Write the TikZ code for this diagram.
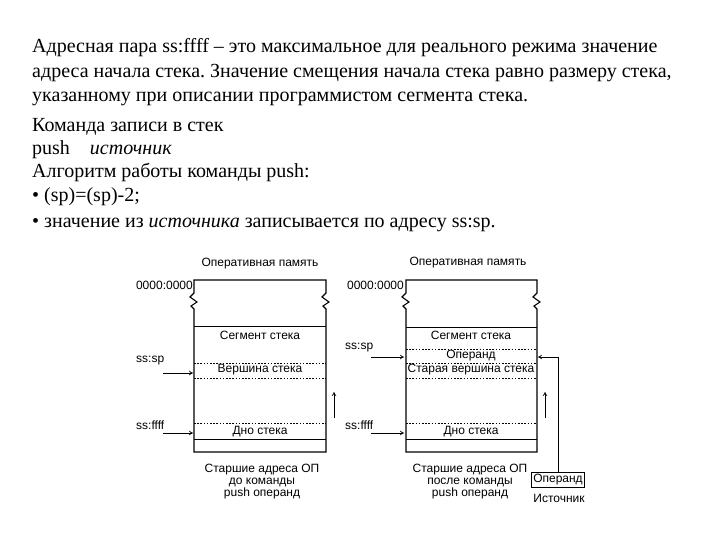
\documentclass[tikz,border=0pt]{standalone}
\usepackage{fontspec}
\setmainfont{Liberation Serif}
\newfontfamily\diagfont{Liberation Sans}
\usetikzlibrary{arrows.meta}
\frenchspacing
\tikzset{
  txt/.style={anchor=base west,inner sep=0pt,font=\fontsize{20}{22}\selectfont},
  lbl/.style={inner sep=0pt,font=\diagfont\fontsize{12}{12}\selectfont},
  sepline/.style={dash pattern=on 1.6pt off 1.6pt,line width=0.7pt},
  arr/.style={-{To[length=4pt,width=4.5pt]},line width=0.7pt},
  wall/.style={line width=1.1pt}
}
\begin{document}
\begin{tikzpicture}[x=1pt,y=-1pt]
  \useasboundingbox (0,0) rectangle (720,540);
  \node[txt] (t1) at (32,53) {Адресная пара ss:ffff – это максимальное для реального режима значение};
  \node[txt] (t2) at (32,78) {адреса начала стека. Значение смещения начала стека равно размеру стека,};
  \node[txt] (t3) at (32,102) {указанному при описании программистом сегмента стека.};
  \node[txt] (t4) at (32,132) {Команда записи в стек};
  \node[txt] (t5) at (32,155) {push\quad\textit{источник}};
  \node[txt] (t6) at (32,178) {Алгоритм работы команды push:};
  \node[txt] (t7) at (32,202) {• (sp)=(sp)-2;};
  \node[txt] (t8) at (32,227) {• значение из \textit{источника} записывается по адресу ss:sp.};

  \draw[wall] (194,309) -- (191,306) -- (197,302) -- (190,297) -- (194,293) -- (194,280)
    -- (326,280) -- (326,293) -- (322,297) -- (329,302) -- (323,306) -- (326,309)
    -- (326,452) -- (194,452) -- cycle;
  \draw (194,326) -- (326,326);
  \draw (194,439) -- (326,439);
  \draw[sepline] (194,363) -- (326,363);
  \draw[sepline] (194,378) -- (326,378);
  \draw[sepline] (194,423) -- (326,423);
  \node[lbl] (lmem) at (260,264) {Оперативная память};
  \node[lbl,anchor=east] (lzero) at (193,285) {0000:0000};
  \node[lbl] (lseg) at (260,335) {Сегмент стека};
  \node[lbl] (ltop) at (260,370) {Вершина стека};
  \node[lbl] (lbot) at (260,432) {Дно стека};
  \node[lbl,anchor=west] (lsp) at (136,361) {ss:sp};
  \node[lbl,anchor=west] (lff) at (136,425) {ss:ffff};
  \node[lbl,align=center] (lhigh) at (262,482) {Старшие адреса ОП\\до команды\\push операнд};
  \coordinate (lspa) at (163,373);
  \coordinate (lspb) at (193,373);
  \coordinate (lffa) at (163,433);
  \coordinate (lffb) at (193,433);
  \coordinate (lupa) at (334,418);
  \coordinate (lupb) at (334,392);
  \draw[arr] (lspa) -- (lspb);
  \draw[arr] (lffa) -- (lffb);
  \draw[arr] (lupa) -- (lupb);

  \draw[wall] (406,309) -- (403,306) -- (409,302) -- (402,297) -- (406,293) -- (406,280)
    -- (537,280) -- (537,293) -- (533,297) -- (540,302) -- (534,306) -- (537,309)
    -- (537,452) -- (406,452) -- cycle;
  \draw (406,327) -- (537,327);
  \draw (406,439) -- (537,439);
  \draw[sepline] (406,349) -- (537,349);
  \draw[sepline] (406,363) -- (537,363);
  \draw[sepline] (406,378) -- (537,378);
  \draw[sepline] (406,423) -- (537,423);
  \node[lbl] (rmem) at (468,263) {Оперативная память};
  \node[lbl,anchor=east] (rzero) at (404,285) {0000:0000};
  \node[lbl] (rseg) at (471,335) {Сегмент стека};
  \node[lbl] (rop) at (471,356) {Операнд};
  \node[lbl] (rold) at (471,370) {Старая вершина стека};
  \node[lbl] (rbot) at (471,432) {Дно стека};
  \node[lbl,anchor=west] (rsp) at (345,348) {ss:sp};
  \node[lbl,anchor=west] (rff) at (345,425) {ss:ffff};
  \node[lbl,align=center] (rhigh) at (470,482) {Старшие адреса ОП\\после команды\\push операнд};
  \node[lbl,draw,line width=0.8pt,inner sep=2pt] (src) at (558,480) {Операнд};
  \node[lbl] (srcname) at (559,498) {Источник};
  \coordinate (rspa) at (371,357);
  \coordinate (rspb) at (404,357);
  \coordinate (rffa) at (371,433);
  \coordinate (rffb) at (404,433);
  \coordinate (rupa) at (545,418);
  \coordinate (rupb) at (545,392);
  \coordinate (rin) at (538,357);
  \draw[arr] (rspa) -- (rspb);
  \draw[arr] (rffa) -- (rffb);
  \draw[arr] (rupa) -- (rupb);
  \draw[arr] (src.north) |- (rin);
\end{tikzpicture}
\end{document}
